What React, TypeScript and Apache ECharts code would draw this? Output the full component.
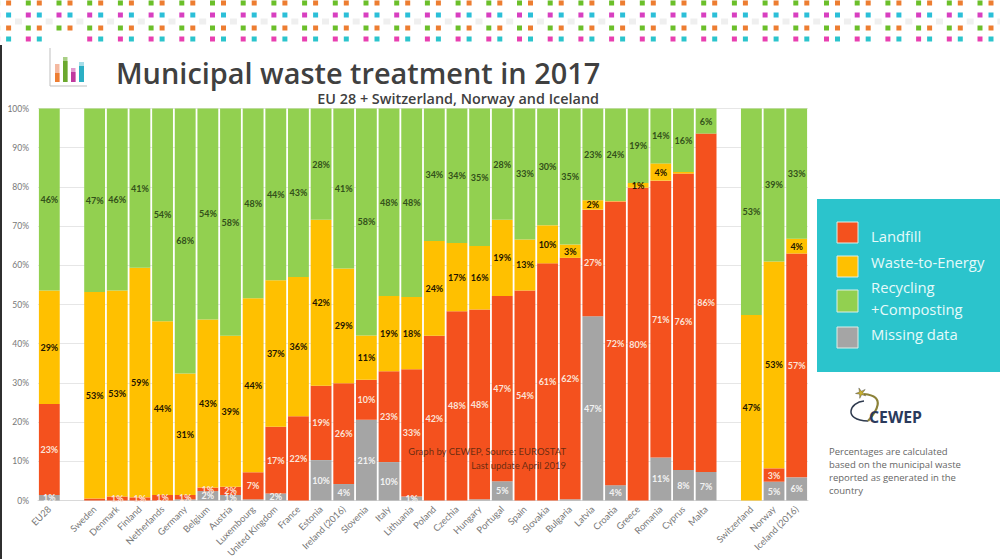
import React, { useEffect, useRef } from "react";
import * as echarts from "echarts";

const categories = ["EU28", "", "Sweden", "Denmark", "Finland", "Netherlands", "Germany", "Belgium", "Austria", "Luxembourg", "United Kingdom", "France", "Estonia", "Ireland (2016)", "Slovenia", "Italy", "Lithuania", "Poland", "Czechia", "Hungary", "Portugal", "Spain", "Slovakia", "Bulgaria", "Latvia", "Croatia", "Greece", "Romania", "Cyprus", "Malta", " ", "Switzerland", "Norway", "Iceland (2016)"];
const missingData = [1.4, 0, 0, 0, 0, 0, 0.3, 2.4, 1.4, 0.3, 1.8, 0, 10.3, 4.2, 20.6, 9.8, 1, 0, 0, 0.3, 4.9, 0, 0, 0.3, 47, 3.9, 0, 11, 7.8, 7.3, 0, 0, 4.8, 5.9];
const landfill = [23.2, 0, 0.5, 1, 0.8, 1.4, 1.1, 0.9, 2.1, 6.9, 17, 21.5, 19, 25.7, 10.2, 23.2, 32.5, 42, 48.3, 48.4, 47.3, 53.6, 60.5, 61.6, 27.2, 72.4, 79.8, 70.6, 75.6, 86.3, 0, 0, 3.4, 57.1];
const wasteToEnergy = [29, 0, 52.7, 52.6, 58.6, 44.3, 31, 42.9, 38.5, 44.4, 37.4, 35.5, 42.3, 29.3, 11.3, 19.2, 18.4, 24.2, 17.4, 16.2, 19.4, 13, 9.7, 3.4, 2.4, 0.1, 1.2, 4.4, 0.4, 0, 0, 47.3, 52.8, 3.8];
const recycling = [46.4, 0, 46.8, 46.4, 40.6, 54.3, 67.6, 53.8, 58, 48.4, 43.8, 43, 28.4, 40.8, 57.9, 47.8, 48.1, 33.8, 34.3, 35.1, 28.4, 33.4, 29.8, 34.7, 23.4, 23.6, 19, 14, 16.2, 6.4, 0, 52.7, 39, 33.2];

const legendEntries = [
  { color: "#F4511E", y: 222, h: 21 },
  { color: "#FFC000", y: 256, h: 21 },
  { color: "#92D050", y: 290, h: 22 },
  { color: "#A5A5A5", y: 327, h: 21 },
];
const legendTexts = [["Landfill", 236], ["Waste-to-Energy", 262], ["Recycling", 287], ["+Composting", 309], ["Missing data", 334]] as const;
const noteLines = ["Percentages are calculated", "based on the municipal waste", "reported as generated in the", "country"];

const FONT = '"Open Sans", sans-serif';
const LABEL_FONT = 'Lato, "Open Sans", sans-serif';

function pattern() {
  const out: any[] = [];
  const rows = [
    { y: 3, a: "#ED7D31", b: "#6BBF2A" },
    { y: 15, a: "#2BBFD8", b: "#D83FC0" },
    { y: 28, a: "#ED7D31", b: "#6BBF2A" },
    { y: 39, a: "#2BC4CC", b: "#E83FB0" },
  ];
  rows.forEach((r, ri) => {
    for (let k = -1; k < 33; k++) {
      const gx = 28.3 + 30.7 * k;
      if (!(ri === 3 && k === 1)) out.push({ type: "rect", shape: { x: gx - 2.5, y: r.y - 2.5, width: 5, height: 5 }, style: { fill: r.b }, silent: true });
      if (!(ri === 3 && k === 1)) out.push({ type: "rect", shape: { x: gx + 8.5, y: r.y - 2.5, width: 5, height: 5 }, style: { fill: r.a }, silent: true });
    }
  });
  for (let k = 0; k < 33; k++) {
    out.push({ type: "rect", shape: { x: 15 + 30.7 * k, y: 18.5, width: 7, height: 6 }, style: { fill: "#EFEFEF" }, silent: true });
  }
  return out;
}

function icon() {
  const bars = [
    { x: 55, w: 4.5, top: 64, mid: 73, c: "#ED7D31", l: "#F4B9A0" },
    { x: 63, w: 4.5, top: 57, mid: 61, c: "#6BA82E", l: "#A9CF85" },
    { x: 71, w: 4.5, top: 68, mid: 72, c: "#C0399F", l: "#E29AD0" },
    { x: 79, w: 5, top: 62, mid: 66, c: "#2BAFC4", l: "#A6DDE8" },
  ];
  const out: any[] = [
    { type: "line", shape: { x1: 50, y1: 48, x2: 50, y2: 86 }, style: { stroke: "#BFBFBF", lineWidth: 1 } },
    { type: "line", shape: { x1: 50, y1: 86, x2: 87, y2: 86 }, style: { stroke: "#BFBFBF", lineWidth: 1 } },
  ];
  bars.forEach((b) => {
    out.push({ type: "rect", shape: { x: b.x, y: b.top, width: b.w, height: 82 - b.top }, style: { fill: b.l } });
    out.push({ type: "rect", shape: { x: b.x, y: b.mid, width: b.w, height: 82 - b.mid }, style: { fill: b.c } });
  });
  return out;
}

function logo() {
  const star: number[][] = [];
  for (let i = 0; i < 10; i++) {
    const r = i % 2 ? 1.8 : 5.5;
    const a = -Math.PI / 2 + (i * Math.PI) / 5 - 0.4;
    star.push([861 + r * Math.cos(a), 393 + r * Math.sin(a)]);
  }
  return [
    { type: "bezierCurve", shape: { x1: 864, y1: 401, cpx1: 850, cpy1: 402, cpx2: 842, cpy2: 420, x2: 868, y2: 421 }, style: { stroke: "#2E3A4E", lineWidth: 1.5, fill: "none" } },
    { type: "bezierCurve", shape: { x1: 868, y1: 421, cpx1: 876, cpy1: 412, cpx2: 887, cpy2: 396, x2: 864, y2: 394 }, style: { stroke: "#8C8238", lineWidth: 2.2, fill: "none" } },
    { type: "polygon", shape: { points: star }, style: { fill: "#C8B030", stroke: "#333", lineWidth: 0.4 } },
    { type: "text", x: 869, y: 417, style: { text: "CEWEP", font: '700 15.8px "Open Sans", sans-serif', fill: "#2B3A5C", textAlign: "left", textVerticalAlign: "middle" } },
  ];
}

function makeSeries(name: string, data: number[], color: string, labelColor: string) {
  return {
    name,
    type: "bar",
    stack: "total",
    data,
    barCategoryGap: "8%",
    itemStyle: { color },
    label: {
      show: true,
      position: "inside",
      color: labelColor,
      fontFamily: LABEL_FONT,
      fontWeight: 700,
      fontSize: 9,
      formatter: (p: any) => (p.value >= 0.8 ? `${Math.round(p.value)}%` : ""),
    },
  };
}

export default function App() {
  const ref = useRef<HTMLDivElement>(null);
  useEffect(() => {
    const chart = echarts.init(ref.current!, null, { renderer: "svg" });
    chart.setOption({
      animation: false,
      backgroundColor: "#FFFFFF",
      textStyle: { fontFamily: LABEL_FONT },
      grid: { left: 38, right: 192, top: 108.5, bottom: 58.5, outerBoundsMode: "none" },
      xAxis: {
        type: "category",
        data: categories,
        axisTick: { show: false },
        axisLine: { lineStyle: { color: "#D9D9D9" } },
        axisLabel: { interval: 0, rotate: 45, color: "#777777", fontFamily: LABEL_FONT, fontSize: 9.3, margin: 7 },
      },
      yAxis: {
        type: "value",
        min: 0,
        max: 100,
        interval: 10,
        axisLine: { show: false },
        axisTick: { show: false },
        axisLabel: { formatter: "{value}%", color: "#777777", fontFamily: LABEL_FONT, fontSize: 8.5, margin: 9 },
        splitLine: { lineStyle: { color: "#E6E6E6" } },
      },
      series: [
        makeSeries("Missing data", missingData, "#A5A5A5", "#F2F2F2"),
        makeSeries("Landfill", landfill, "#F4511E", "#FBE3D8"),
        makeSeries("Waste-to-Energy", wasteToEnergy, "#FFC000", "#1F1600"),
        makeSeries("Recycling +Composting", recycling, "#92D050", "#33511A"),
      ],
      graphic: [
        { type: "rect", shape: { x: 0, y: 45, width: 2, height: 514 }, style: { fill: "#2F2F2F" }, z: 5 },
        { type: "group", z: 1, children: pattern() },
        { type: "group", z: 1, children: icon() },
        { type: "text", z: 5, x: 116, y: 72, style: { text: "Municipal waste treatment in 2017", font: `600 28.9px ${FONT}`, fill: "#404040", textAlign: "left", textVerticalAlign: "middle" } },
        { type: "text", z: 5, x: 599, y: 98, style: { text: "EU 28 + Switzerland, Norway and Iceland", font: `600 14.4px ${FONT}`, fill: "#404040", textAlign: "right", textVerticalAlign: "middle" } },
        { type: "text", z: 20, x: 566, y: 451, style: { text: "Graph by CEWEP, Source: EUROSTAT", font: `400 9.5px ${LABEL_FONT}`, fill: "rgba(90,40,15,0.9)", textAlign: "right", textVerticalAlign: "middle" } },
        { type: "text", z: 20, x: 566, y: 465, style: { text: "Last update April 2019", font: `400 9.5px ${LABEL_FONT}`, fill: "rgba(90,40,15,0.9)", textAlign: "right", textVerticalAlign: "middle" } },
        { type: "rect", z: 5, shape: { x: 817, y: 199, width: 183, height: 173 }, style: { fill: "#2BC4CC" } },
        ...legendEntries.map((e) => ({ type: "rect", z: 6, shape: { x: 837, y: e.y, width: 21, height: e.h }, style: { fill: e.color, stroke: "#DDEFE8", lineWidth: 1 } })),
        ...legendTexts.map(([t, y]) => ({ type: "text", z: 6, x: 871, y, style: { text: t, font: `400 14.8px ${FONT}`, fill: "#E6FAFA", textAlign: "left", textVerticalAlign: "middle" } })),
        { type: "group", z: 5, children: logo() },
        ...noteLines.map((t, i) => ({ type: "text", z: 5, x: 829, y: 451 + i * 13, style: { text: t, font: `400 9.5px ${FONT}`, fill: "#666666", textAlign: "left", textVerticalAlign: "middle" } })),
      ],
    });
    return () => chart.dispose();
  }, []);
  return <div ref={ref} style={{ position: "fixed", left: 0, top: 0, width: 1000, height: 559 }} />;
}
